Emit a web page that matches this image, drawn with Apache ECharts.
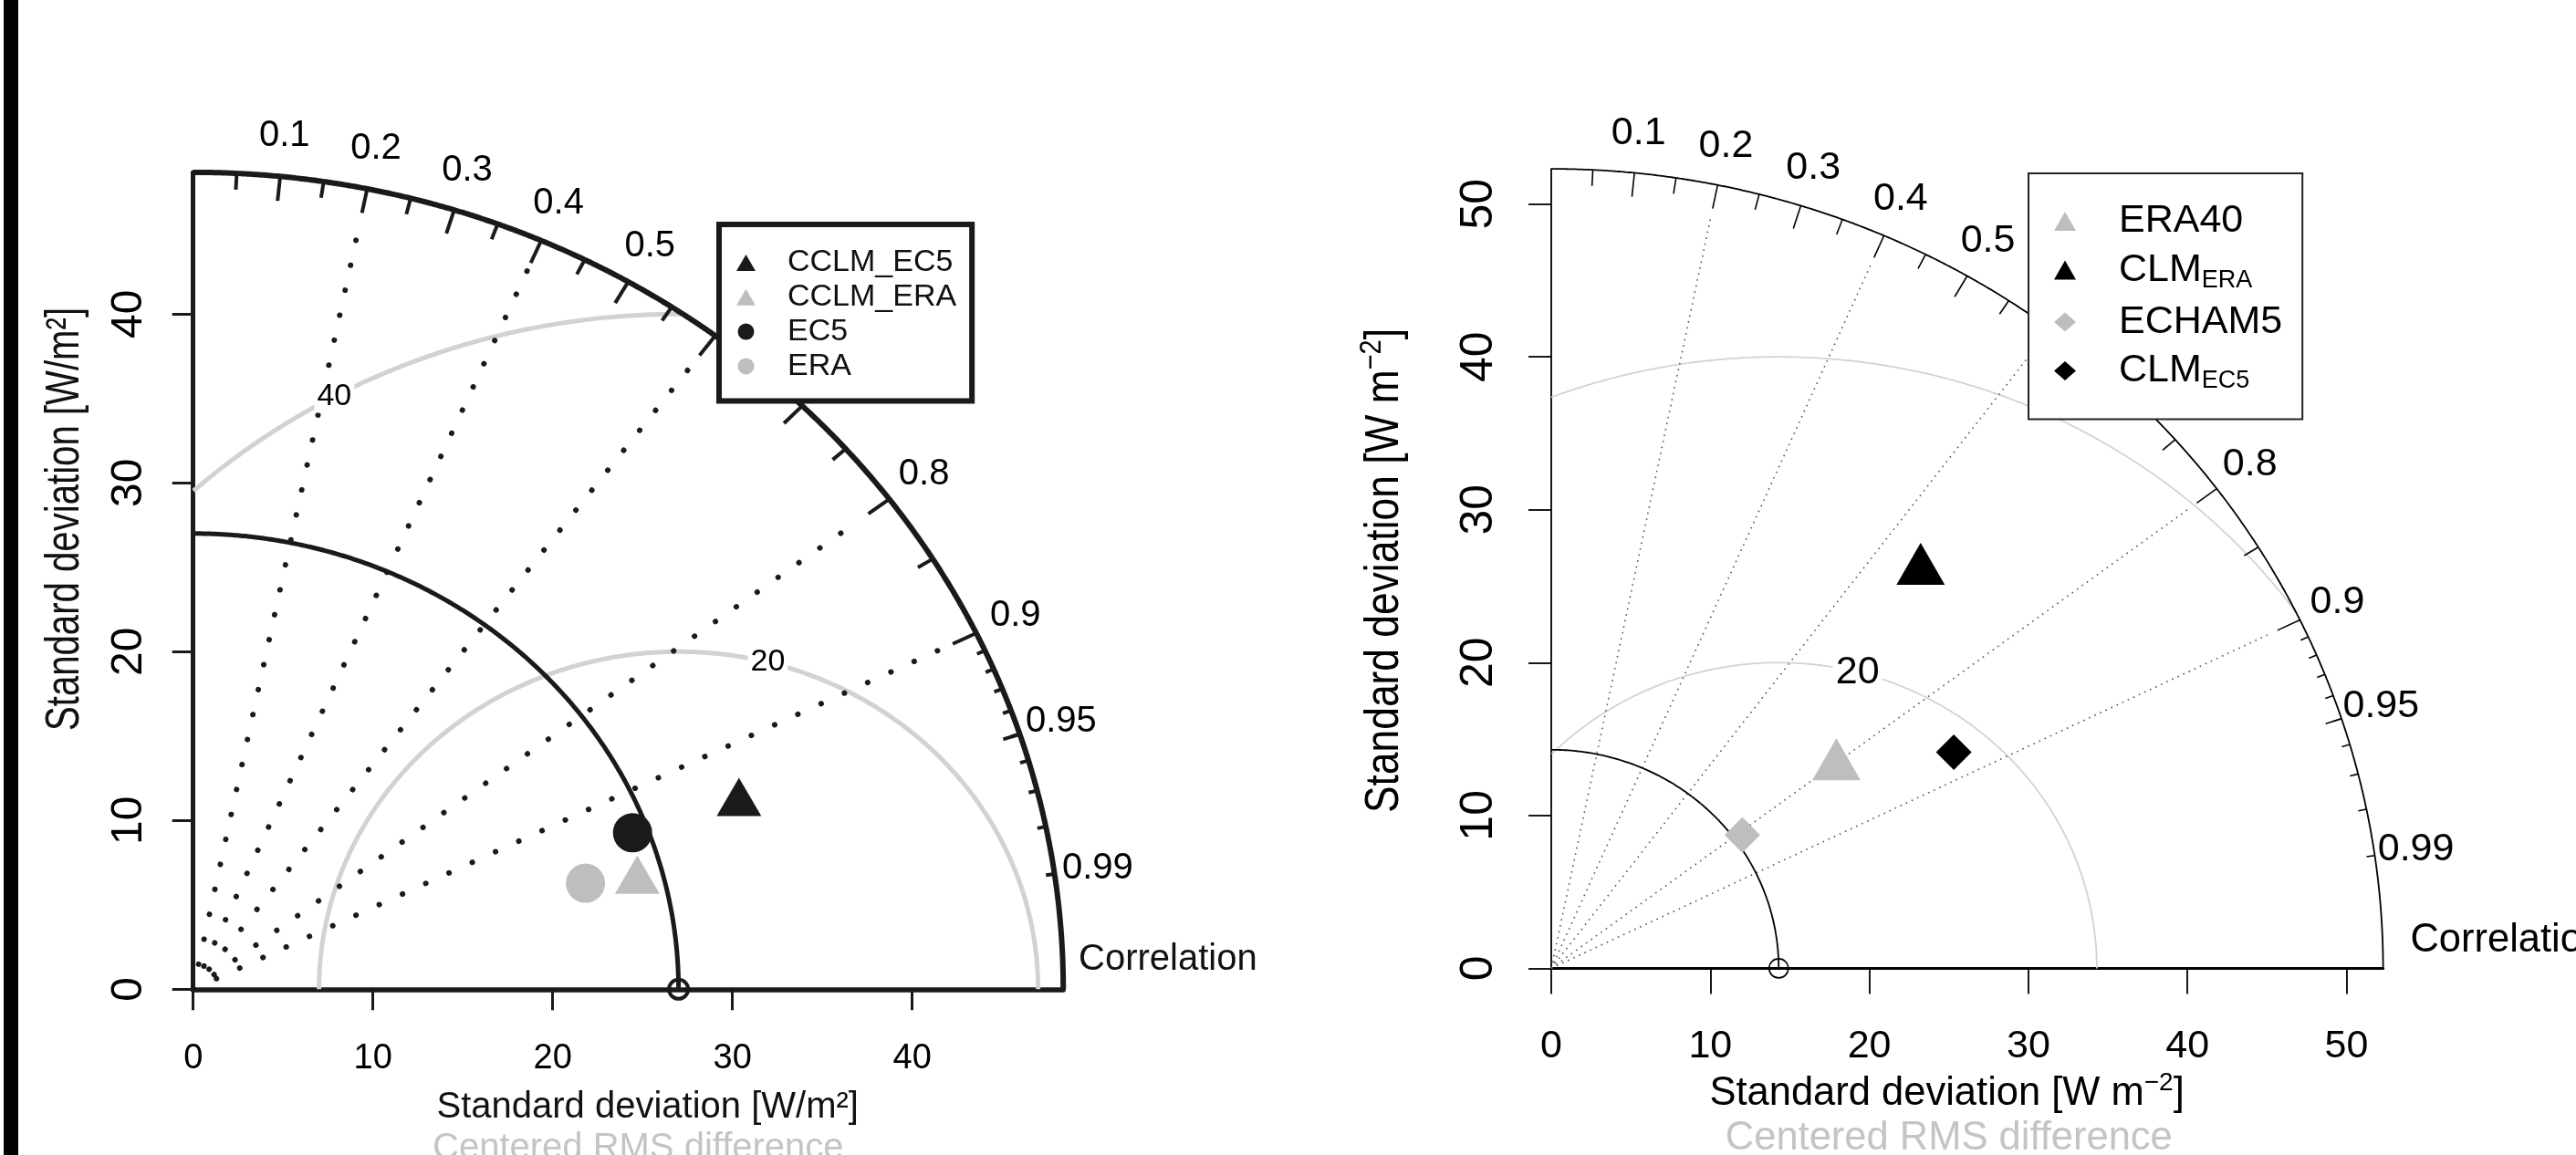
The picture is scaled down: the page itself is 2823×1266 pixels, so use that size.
<!DOCTYPE html>
<html><head><meta charset="utf-8">
<script src="https://cdn.jsdelivr.net/npm/echarts@6/dist/echarts.min.js"></script>
<style>html,body{margin:0;padding:0;background:#fff;overflow:hidden}#c{width:2823px;height:1266px}</style>
</head><body><div id="c"></div>
<script>
// ---------------- data ----------------
// left diagram
const leftModels = ['CCLM_EC5', 'CCLM_ERA', 'EC5', 'ERA'];
const leftSD     = [32.30, 25.52, 26.14, 22.71];
const leftCorr   = [0.940, 0.968, 0.935, 0.961];
const leftRefSD  = 27.0;
const leftMaxSD  = 48.4;
const leftRMS    = [20, 40];
const leftSDTicks = [0, 10, 20, 30, 40];
// right diagram
const rightModels = ['ERA40', 'CLM_ERA', 'ECHAM5', 'CLM_EC5'];
const rightSD     = [22.27, 34.87, 14.85, 28.99];
const rightCorr   = [0.805, 0.666, 0.809, 0.873];
const rightRefSD  = 14.3;
const rightMaxSD  = 52.3;
const rightRMS    = [20, 40];
const rightSDTicks = [0, 10, 20, 30, 40, 50];
// correlation scale
const corrLabels     = [0.1, 0.2, 0.3, 0.4, 0.5, 0.6, 0.7, 0.8, 0.9, 0.95, 0.99];
const corrBigTicks   = [0.1, 0.2, 0.3, 0.4, 0.5, 0.6, 0.7, 0.8, 0.9];
const corrMedTicks   = [0.05, 0.15, 0.25, 0.35, 0.45, 0.55, 0.65, 0.75, 0.85, 0.95];
const corrSmallTicks = [0.91, 0.92, 0.93, 0.94, 0.95, 0.96, 0.97, 0.98, 0.99];
const corrGridLines  = [0.2, 0.4, 0.6, 0.8, 0.9];

// ---------------- styles ----------------
const FONT = 'Liberation Sans';
const L = {
  p: 0, max: leftMaxSD, ref: leftRefSD, rms: leftRMS, ticks: leftSDTicks,
  models: leftModels, sd: leftSD, corr: leftCorr,
  symbols: ['triangle', 'triangle', 'circle', 'circle'],
  colors: ['#1a1a1a', '#bebebe', '#1a1a1a', '#bebebe'],
  sizes: [[49, 42], [49, 42], 43, 43],
  col: '#1a1a1a', labCol: '#000000', rmsColor: '#d2d2d2', rmsW: 5, outerW: 6, refW: 5, tickW: 4,
  dot: {color: '#1a1a1a', width: 6, type: [0.1, 27.9], cap: 'round'},
  corrFont: 40, rmsFont: 34, refPt: {size: 21, bw: 4},
  grid: {left: 211.7, top: 188.9, width: 953.5, height: 895.4},
  xAxisW: 5.5, yAxisW: 5, axTickW: 3, xTickLen: 23, yTickLen: 23,
  xLab: {size: 38, margin: 57}, yLab: {size: 48, margin: 46}
};
const R = {
  p: 1, max: rightMaxSD, ref: rightRefSD, rms: rightRMS, ticks: rightSDTicks,
  models: rightModels, sd: rightSD, corr: rightCorr,
  symbols: ['triangle', 'triangle', 'diamond', 'diamond'],
  colors: ['#bebebe', '#000000', '#bebebe', '#000000'],
  sizes: [[53, 46], [53, 46], [39, 39], [39, 39]],
  col: '#000000', labCol: '#000000', rmsColor: '#d3d3d3', rmsW: 1.8, outerW: 1.8, refW: 1.8, tickW: 1.6,
  dot: {color: '#555555', width: 1.6, type: [1.6, 5.1], cap: 'butt'},
  corrFont: 43, rmsFont: 43, refPt: {size: 21, bw: 1.6},
  grid: {left: 1700, top: 185.1, width: 911.6, height: 876.3},
  xAxisW: 3, yAxisW: 1.8, axTickW: 1.8, xTickLen: 28, yTickLen: 25,
  xLab: {size: 43, margin: 64}, yLab: {size: 50, margin: 54}
};

function xy(sd, c) { return [sd * c, sd * Math.sqrt(Math.max(0, 1 - c * c))]; }

function panelSeries(cfg) {
  const ax = {xAxisIndex: cfg.p, yAxisIndex: cfg.p};
  const base = {silent: true, animation: false, clip: false};
  const s = [];
  // centered RMS difference arcs
  cfg.rms.forEach(g => {
    const pts = [];
    for (let k = 0; k <= 3000; k++) {
      const a = Math.PI * k / 3000;
      const x = cfg.ref + g * Math.cos(a), y = g * Math.sin(a);
      if (x >= 0 && x * x + y * y <= cfg.max * cfg.max) pts.push([x, y]);
    }
    s.push(Object.assign({type: 'line', data: pts, symbol: 'none', showSymbol: false, z: 1,
      lineStyle: {color: cfg.rmsColor, width: cfg.rmsW}}, ax, base));
  });
  // correlation grid lines (dotted)
  s.push(Object.assign({type: 'lines', coordinateSystem: 'cartesian2d', z: 2,
    data: corrGridLines.map(c => ({coords: [[0, 0], xy(cfg.max * 0.96, c)]})),
    lineStyle: Object.assign({opacity: 1, curveness: 0}, cfg.dot)}, ax, base));
  // outer arc
  const outer = [];
  for (let k = 0; k <= 600; k++) { const a = Math.PI / 2 * k / 600; outer.push([cfg.max * Math.cos(a), cfg.max * Math.sin(a)]); }
  s.push(Object.assign({type: 'line', data: outer, symbol: 'none', showSymbol: false, z: 3,
    lineStyle: {color: cfg.col, width: cfg.outerW}}, ax, base));
  // correlation ticks
  const tk = [];
  corrBigTicks.forEach(c => tk.push({coords: [xy(cfg.max, c), xy(cfg.max * 0.97, c)]}));
  corrMedTicks.forEach(c => tk.push({coords: [xy(cfg.max, c), xy(cfg.max * 0.98, c)]}));
  corrSmallTicks.forEach(c => tk.push({coords: [xy(cfg.max, c), xy(cfg.max * 0.99, c)]}));
  s.push(Object.assign({type: 'lines', coordinateSystem: 'cartesian2d', z: 3, data: tk,
    lineStyle: {color: cfg.col, width: cfg.tickW, opacity: 1, curveness: 0}}, ax, base));
  // reference SD arc
  const refArc = [];
  for (let k = 0; k <= 400; k++) { const a = Math.PI / 2 * k / 400; refArc.push([cfg.ref * Math.cos(a), cfg.ref * Math.sin(a)]); }
  s.push(Object.assign({type: 'line', data: refArc, symbol: 'none', showSymbol: false, z: 3,
    lineStyle: {color: cfg.col, width: cfg.refW}}, ax, base));
  // reference point
  s.push(Object.assign({type: 'scatter', data: [[cfg.ref, 0]], symbol: 'circle', symbolSize: cfg.refPt.size, z: 4,
    itemStyle: {color: 'rgba(0,0,0,0)', borderColor: cfg.col, borderWidth: cfg.refPt.bw, opacity: 1}}, ax, base));
  // correlation labels
  s.push(Object.assign({type: 'scatter', symbol: 'circle', symbolSize: 1, z: 4,
    itemStyle: {color: 'rgba(0,0,0,0)', opacity: 1},
    data: corrLabels.map(c => ({name: String(c), value: xy(cfg.max * 1.05, c)})),
    label: {show: true, position: 'inside', formatter: '{b}', fontSize: cfg.corrFont, fontFamily: FONT, color: cfg.labCol, opacity: 1}}, ax, base));
  // RMS labels (plotrix convention: label positions along each arc)
  const n = cfg.rms.length;
  const rmsLab = [];
  cfg.rms.forEach((g, i) => {
    const idx = n > 1 ? 45 + (70 - 45) * i / (n - 1) : 45;
    const a = (Math.round(idx) - 1) * 0.03;
    const x = cfg.ref + g * Math.cos(a), y = g * Math.sin(a);
    if (x > 0) rmsLab.push({name: String(g), value: [x, y]});
  });
  s.push(Object.assign({type: 'scatter', symbol: 'circle', symbolSize: 1, z: 4,
    itemStyle: {color: 'rgba(0,0,0,0)', opacity: 1}, data: rmsLab,
    label: {show: true, position: 'inside', formatter: '{b}', fontSize: cfg.rmsFont, fontFamily: FONT, color: cfg.labCol, opacity: 1,
      backgroundColor: '#ffffff', padding: [1, 3]}}, ax, base));
  // model points
  cfg.models.forEach((m, i) => {
    const sz = cfg.sizes[i];
    const h = Array.isArray(sz) ? sz[1] : sz;
    s.push(Object.assign({type: 'scatter', name: m, data: [xy(cfg.sd[i], cfg.corr[i])], z: 6,
      symbol: cfg.symbols[i], symbolSize: sz,
      symbolOffset: cfg.symbols[i] === 'triangle' ? [0, -h / 6] : [0, 0],
      itemStyle: {color: cfg.colors[i], opacity: 1}}, ax, base));
  });
  return s;
}

function axes(cfg) {
  const x = {
    gridIndex: cfg.p, type: 'value', min: 0, max: cfg.max, interval: 10,
    axisLine: {show: true, onZero: false, lineStyle: {color: cfg.col, width: cfg.xAxisW}},
    axisTick: {show: true, inside: false, customValues: cfg.ticks, length: cfg.xTickLen, lineStyle: {color: cfg.col, width: cfg.axTickW}},
    axisLabel: {show: true, customValues: cfg.ticks, margin: cfg.xLab.margin, fontSize: cfg.xLab.size, fontFamily: FONT, color: cfg.labCol},
    splitLine: {show: false}
  };
  const y = {
    gridIndex: cfg.p, type: 'value', min: 0, max: cfg.max, interval: 10,
    axisLine: {show: true, onZero: false, lineStyle: {color: cfg.col, width: cfg.yAxisW}},
    axisTick: {show: true, inside: false, customValues: cfg.ticks, length: cfg.yTickLen, lineStyle: {color: cfg.col, width: cfg.axTickW}},
    axisLabel: {show: true, customValues: cfg.ticks, rotate: 90, margin: cfg.yLab.margin, fontSize: cfg.yLab.size,
      fontFamily: '"Liberation Sans Narrow", "Liberation Sans"', color: cfg.labCol},
    splitLine: {show: false}
  };
  return [x, y];
}

const [lx, ly] = axes(L);
const [rx, ry] = axes(R);

const supRich = (size, col) => ({
  a: {fontSize: size, fontFamily: FONT, color: col, lineHeight: size * 1.2},
  b: {fontSize: Math.round(size * 0.65), fontFamily: FONT, color: col, lineHeight: Math.round(size * 0.65), verticalAlign: 'top'}
});

const option = {
  animation: false,
  backgroundColor: '#ffffff',
  textStyle: {fontFamily: FONT},
  grid: [
    Object.assign({containLabel: false, outerBoundsMode: 'none'}, L.grid),
    Object.assign({containLabel: false, outerBoundsMode: 'none'}, R.grid)
  ],
  xAxis: [lx, rx],
  yAxis: [ly, ry],
  legend: [
    {
      data: leftModels.map((m, i) => ({name: m, icon: L.symbols[i]})),
      orient: 'vertical', left: 788, top: 246, z: 20,
      itemWidth: 21, itemHeight: 18, itemGap: 1.8,
      padding: [24, 17, 20, 19],
      backgroundColor: '#ffffff', borderColor: '#1a1a1a', borderWidth: 6, borderRadius: 0,
      selectedMode: false,
      textStyle: {fontSize: 34, fontFamily: FONT, color: '#111111', lineHeight: 36, padding: [0, 0, 0, 30]}
    },
    {
      data: rightModels.map((m, i) => ({name: m, icon: R.symbols[i]})),
      orient: 'vertical', left: 2223, top: 190, z: 20,
      itemWidth: 24, itemHeight: 21, itemGap: 10.5,
      padding: [31, 22, 28, 28],
      backgroundColor: '#ffffff', borderColor: '#222222', borderWidth: 2, borderRadius: 0,
      selectedMode: false,
      formatter: name => name.indexOf('CLM_') === 0 ? '{m|CLM}{s|' + name.slice(4) + '}' : '{m|' + name + '}',
      textStyle: {
        padding: [0, 0, 0, 42], color: '#000',
        rich: {
          m: {fontSize: 43, fontFamily: FONT, color: '#000', lineHeight: 50},
          s: {fontSize: 27, fontFamily: FONT, color: '#000', lineHeight: 26, verticalAlign: 'bottom'}
        }
      }
    }
  ],
  graphic: [
    {type: 'rect', shape: {x: 4, y: 0, width: 16, height: 1266}, style: {fill: '#000'}, z: 30},
    // left axis titles
    {type: 'text', x: 709.7, y: 1214, z: 30, style: {text: 'Standard deviation [W/m²]', font: '40px "Liberation Sans"', fill: '#111111', align: 'center', verticalAlign: 'middle', textAlign: 'center', textVerticalAlign: 'middle'}},
    {type: 'text', x: 699.3, y: 1259, z: 30, style: {text: 'Centered RMS difference', font: '40px "Liberation Sans"', fill: '#c4c4c4', align: 'center', verticalAlign: 'middle', textAlign: 'center', textVerticalAlign: 'middle'}},
    {type: 'text', x: 72, y: 569, rotation: Math.PI / 2, scaleX: 0.772, z: 30, style: {text: 'Standard deviation [W/m²]', font: '52px "Liberation Sans"', fill: '#111111', align: 'center', verticalAlign: 'middle', textAlign: 'center', textVerticalAlign: 'middle'}},
    {type: 'text', x: 1182, y: 1052, z: 30, style: {text: 'Correlation', font: '40px "Liberation Sans"', fill: '#111111', align: 'left', verticalAlign: 'middle', textAlign: 'left', textVerticalAlign: 'middle'}},
    // right axis titles
    {type: 'text', x: 2133.6, y: 1199, z: 30, style: {text: '{a|Standard deviation [W m}{b|−2}{a|]}', rich: supRich(43.5, '#000'), align: 'center', verticalAlign: 'middle', textAlign: 'center', textVerticalAlign: 'middle'}},
    {type: 'text', x: 2135.8, y: 1248, z: 30, style: {text: 'Centered RMS difference', font: '43.5px "Liberation Sans"', fill: '#c4c4c4', align: 'center', verticalAlign: 'middle', textAlign: 'center', textVerticalAlign: 'middle'}},
    {type: 'text', x: 1518, y: 625.5, rotation: Math.PI / 2, scaleX: 0.853, z: 30, style: {text: '{a|Standard deviation [W m}{b|−2}{a|]}', rich: supRich(52, '#000'), align: 'center', verticalAlign: 'middle', textAlign: 'center', textVerticalAlign: 'middle'}},
    {type: 'text', x: 2641.4, y: 1031, z: 30, style: {text: 'Correlation', font: '43.5px "Liberation Sans"', fill: '#000', align: 'left', verticalAlign: 'middle', textAlign: 'left', textVerticalAlign: 'middle'}}
  ],
  series: panelSeries(L).concat(panelSeries(R))
};

const chart = echarts.init(document.getElementById('c'), null, {renderer: 'canvas', width: 2823, height: 1266, devicePixelRatio: 1});
chart.setOption(option);
</script>
</body></html>
